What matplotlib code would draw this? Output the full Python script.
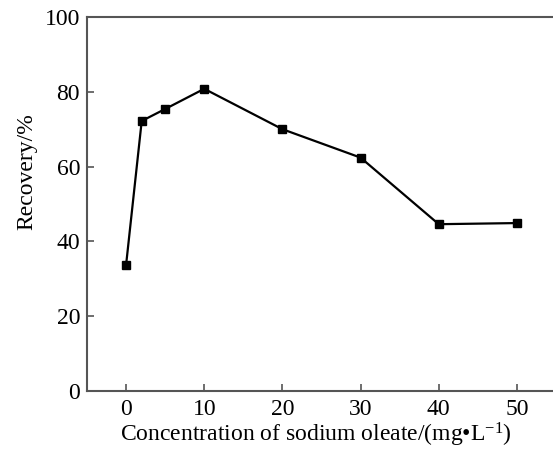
import matplotlib
matplotlib.use('Agg')
import matplotlib.pyplot as plt

# Recovery vs sodium oleate concentration
concentration = [0, 2, 5, 10, 20, 30, 40, 50]
recovery = [33.7, 72.2, 75.4, 80.8, 70.0, 62.4, 44.6, 44.9]
x_ticks = [0, 10, 20, 30, 40, 50]
y_ticks = [0, 20, 40, 60, 80, 100]

plt.rcParams['font.family'] = ['Liberation Serif', 'DejaVu Serif']
plt.rcParams['mathtext.fontset'] = 'custom'
plt.rcParams['mathtext.rm'] = 'Liberation Serif'
plt.rcParams['mathtext.it'] = 'Liberation Serif'

fig = plt.figure(figsize=(5.53, 4.5), dpi=100)
# right edge of the box runs off the image, as in the original
ax = fig.add_axes([87 / 553, 59 / 450, 469 / 553, 374 / 450])

ax.plot(concentration, recovery, color='black', linewidth=1.6,
        marker='s', markersize=5.5, markerfacecolor='black', markeredgecolor='black')

ax.set_xlim(-5, 55)
ax.set_ylim(0, 100)
ax.set_xticks(x_ticks)
ax.set_yticks(y_ticks)

for side in ['left', 'bottom', 'top']:
    ax.spines[side].set_color('#555555')
    ax.spines[side].set_linewidth(1.5)
ax.spines['right'].set_visible(False)

ax.tick_params(direction='in', length=5, width=1.2, color='#555555',
               labelsize=17, pad=6)
ax.tick_params(axis='y', pad=5)

fig.text(316 / 553, 1 - 435 / 450, r'Concentration of sodium oleate/(mg•L$^{-1}$)',
         ha='center', va='center', fontsize=17)
fig.text(27 / 553, 1 - 172 / 450, 'Recovery/%', rotation=90,
         ha='center', va='center', fontsize=17)

fig.savefig('out.png', dpi=100)
